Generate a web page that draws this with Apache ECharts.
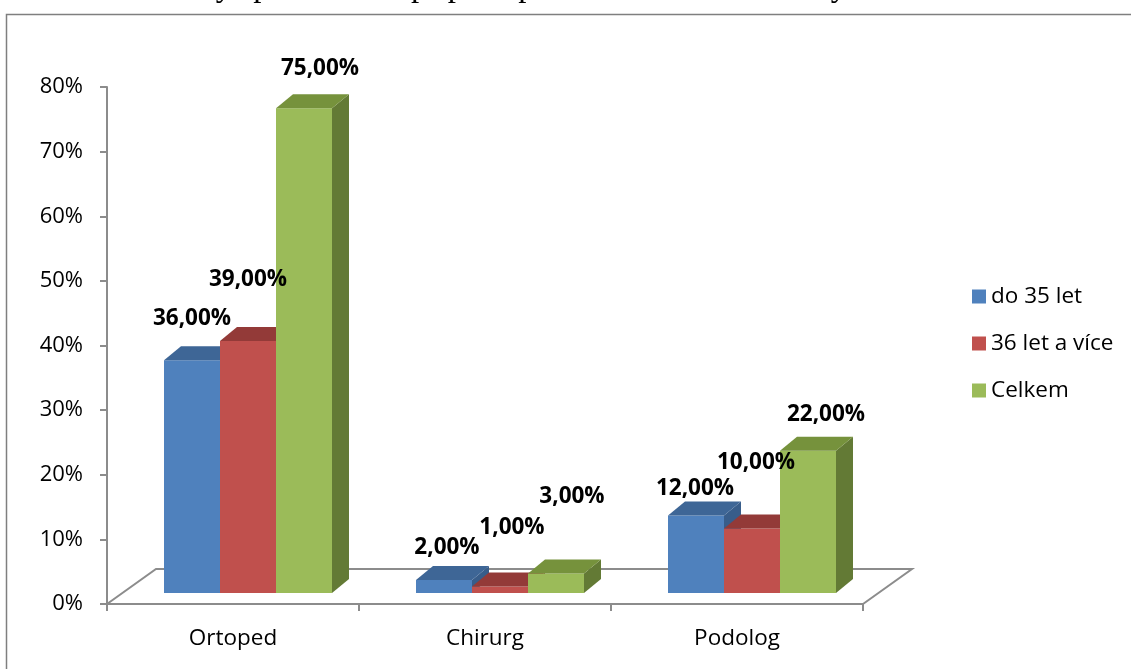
<!DOCTYPE html>
<html>
<head>
<meta charset="utf-8">
<script src="https://cdn.jsdelivr.net/npm/echarts@6/dist/echarts.min.js"></script>
<style>
  html, body { margin: 0; padding: 0; background: #fff; }
  #chart { width: 1131px; height: 669px; }
</style>
</head>
<body>
<div id="chart"></div>
<script>
// Odborný specialista – podíl odpovědí podle věkové skupiny (v %)
const categories = ['Ortoped', 'Chirurg', 'Podolog'];
const seriesNames = ['do 35 let', '36 let a více', 'Celkem'];
const do35let = [36, 2, 12];
const od36let = [39, 1, 10];
const celkem = [75, 3, 22];
const yTickStep = 10;
const yMax = 80;

const seriesValues = [do35let, od36let, celkem];

// face colours: front, top, side
const palette = [
  { front: '#4F81BD', top: '#3E6696', side: '#385D8A' },
  { front: '#C0504D', top: '#933A38', side: '#8A3533' },
  { front: '#9BBB59', top: '#76923C', side: '#637A35' }
];

// pseudo-3D geometry (pixels)
const FLOOR = { dx: 49, dy: -35 };   // depth of the floor
const PLANE = { dx: 15, dy: -11 };   // plane in which the columns stand
const DEPTH = { dx: 17, dy: -14 };   // depth of a single column

// label nudges relative to the top-front centre of each column [series][category]
const labelNudge = [
  [[0, -42], [3, -32], [-1, -27]],
  [[0, -61], [12, -59], [4, -66]],
  [[16, -40], [16, -77], [18, -36]]
];

const fmt = v => v.toFixed(2).replace('.', ',') + '%';
const axisGrey = '#8C8C8C';
const font = '"Open Sans", "Noto Sans", sans-serif';

function columnRenderer(si) {
  return function (params, api) {
    const cat = api.value(0);
    const val = api.value(1);
    const base = api.coord([cat, 0]);
    const top = api.coord([cat, val]);
    const band = api.size([1, 0])[0];
    const bw = band * 2 / 9;
    const x0 = base[0] - 1.5 * bw + si * bw + PLANE.dx;
    const x1 = x0 + bw;
    const yb = base[1] + PLANE.dy;
    const yt = top[1] + PLANE.dy;
    const c = palette[si];
    const nudge = labelNudge[si][params.dataIndex];
    return {
      type: 'group',
      children: [
        {
          type: 'polygon',
          shape: { points: [[x1, yt], [x1 + DEPTH.dx, yt + DEPTH.dy], [x1 + DEPTH.dx, yb + DEPTH.dy], [x1, yb]] },
          style: { fill: c.side }
        },
        {
          type: 'rect',
          shape: { x: x0, y: yt, width: bw, height: yb - yt },
          style: { fill: c.front }
        },
        {
          type: 'polygon',
          shape: { points: [[x0, yt], [x0 + DEPTH.dx, yt + DEPTH.dy], [x1 + DEPTH.dx, yt + DEPTH.dy], [x1, yt]] },
          style: { fill: c.top }
        },
        {
          type: 'text',
          z2: 10,
          style: {
            x: (x0 + x1) / 2 + nudge[0],
            y: yt + nudge[1],
            text: fmt(val),
            align: 'center',
            verticalAlign: 'middle',
            fill: '#000',
            font: 'bold 22.5px ' + font
          }
        }
      ]
    };
  };
}

const floorSeries = {
  type: 'custom',
  name: 'floor',
  silent: true,
  clip: false,
  z: 1,
  data: [[0, 0]],
  renderItem: function (params, api) {
    const band = api.size([1, 0])[0];
    const p0 = api.coord([0, 0]);
    const left = p0[0] - band / 2;
    const right = api.coord([categories.length - 1, 0])[0] + band / 2;
    const y = p0[1];
    return {
      type: 'polyline',
      shape: { points: [[left, y], [left + FLOOR.dx, y + FLOOR.dy], [right + FLOOR.dx, y + FLOOR.dy], [right, y]] },
      style: { stroke: axisGrey, lineWidth: 2, fill: null }
    };
  }
};

const columnSeries = seriesNames.map((name, si) => ({
  type: 'custom',
  name: name,
  clip: false,
  z: 2,
  itemStyle: { color: palette[si].front },
  data: seriesValues[si].map((v, i) => [i, v]),
  renderItem: columnRenderer(si)
}));

const chart = echarts.init(document.getElementById('chart'), null, { renderer: 'canvas' });
chart.setOption({
  animation: false,
  backgroundColor: '#fff',
  graphic: [
    {
      type: 'text',
      left: 5,
      top: -29,
      silent: true,
      style: {
        text: 'Graf 13 Odborný specialista v případě potíží na dolní končetiny',
        font: '33px "Liberation Serif", "DejaVu Serif", serif',
        fill: '#000'
      }
    },
    {
      type: 'rect',
      left: 4,
      top: 12,
      silent: true,
      shape: { width: 1200, height: 700 },
      style: { fill: null, stroke: '#7F7F7F', lineWidth: 1.5 }
    }
  ],
  grid: { left: 107, right: 268, top: 87, bottom: 65, containLabel: false },
  legend: {
    data: seriesNames,
    orient: 'vertical',
    left: 967,
    top: 277,
    icon: 'rect',
    itemWidth: 14,
    itemHeight: 14,
    itemGap: 18,
    textStyle: { fontFamily: font, fontSize: 22.5, color: '#000', lineHeight: 29 }
  },
  xAxis: {
    type: 'category',
    data: categories,
    boundaryGap: true,
    axisLine: { show: true, lineStyle: { color: axisGrey, width: 2 } },
    axisTick: { show: true, length: 7, lineStyle: { color: axisGrey, width: 2 } },
    axisLabel: { fontFamily: font, fontSize: 22.5, color: '#000', margin: 23 },
    splitLine: { show: false }
  },
  yAxis: {
    type: 'value',
    min: 0,
    max: yMax,
    interval: yTickStep,
    axisLine: { show: true, lineStyle: { color: axisGrey, width: 2 } },
    axisTick: { show: true, length: 7, lineStyle: { color: axisGrey, width: 2 } },
    axisLabel: { fontFamily: font, fontSize: 22, color: '#000', margin: 24, formatter: '{value}%' },
    splitLine: { show: false }
  },
  series: [floorSeries].concat(columnSeries)
});
</script>
</body>
</html>
